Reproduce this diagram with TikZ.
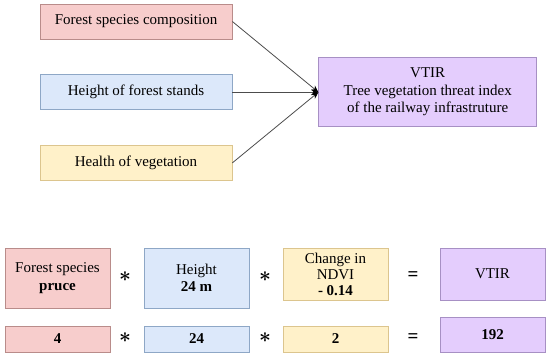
\documentclass[tikz,border=0pt]{standalone}
\usepackage{fontspec}
\setmainfont{Liberation Serif}
\usepackage{xcolor}
\usepackage{tikz}
\usetikzlibrary{arrows.meta,positioning}

\definecolor{speciesfill}{HTML}{F7CDCC}
\definecolor{speciesline}{HTML}{B98C8A}
\definecolor{heightfill}{HTML}{DCE8FA}
\definecolor{heightline}{HTML}{8EA7C6}
\definecolor{healthfill}{HTML}{FFF1C9}
\definecolor{healthline}{HTML}{DCC58E}
\definecolor{vtirfill}{HTML}{E4CDFD}
\definecolor{vtirline}{HTML}{A790C4}

\begin{document}
\begin{tikzpicture}[
    x=1pt, y=1pt,
    node distance=35pt and 86pt,
    box/.style={draw, align=center, inner sep=1pt, line width=0.7pt, font=\fontsize{15}{17.5}\selectfont},
    factor/.style={box, minimum width=192pt, minimum height=35pt},
    pinkbox/.style={fill=speciesfill, draw=speciesline},
    bluebox/.style={fill=heightfill, draw=heightline},
    yellowbox/.style={fill=healthfill, draw=healthline},
    lilacbox/.style={fill=vtirfill, draw=vtirline},
    op/.style={inner sep=0pt, font=\fontsize{21}{21}\selectfont\boldmath},
    eq/.style={inner sep=0pt, font=\fontsize{19}{19}\selectfont\bfseries},
    flow/.style={-{Stealth[length=7pt, width=6pt, color=black]}, line width=0.8pt, draw=black!70}
]
\useasboundingbox (0,0) rectangle (550,358);

% inputs of the index
\node[factor, pinkbox] (species) at (136,336.5) {Forest species composition};
\node[factor, bluebox, below=of species] (stands) {Height of forest stands};
\node[factor, yellowbox, below=of stands] (health) {Health of vegetation};
\node[box, lilacbox, minimum width=218pt, minimum height=69pt, right=of stands] (vtir)
    {VTIR\\Tree vegetation threat index\\of the railway infrastruture};

\draw[flow] (species.east) -- (vtir.west);
\draw[flow] (stands.east) -- (vtir.west);
\draw[flow] (health.east) -- (vtir.west);

% worked example
\node[box, pinkbox, minimum width=105pt, minimum height=60pt] (spruce) at (57.5,80) {Forest species\\\textbf{pruce}};
\node[box, bluebox, minimum width=105pt, minimum height=60pt] (tall) at (196.5,80) {Height\\\textbf{24 m}};
\node[box, yellowbox, minimum width=105pt, minimum height=52pt, font=\fontsize{15}{16}\selectfont] (ndvi) at (335.5,84) {Change in\\NDVI\\\textbf{- 0.14}};
\node[box, lilacbox, minimum width=105pt, minimum height=52pt] (result) at (492.5,84) {VTIR};

\node[op] (times1) at (125,81) {$\ast$};
\node[op] (times2) at (265,81) {$\ast$};
\node[eq] (equals1) at (413,82) {=};

\node[box, pinkbox, minimum width=105pt, minimum height=26pt] (spruceval) at (57.5,19) {\textbf{4}};
\node[box, bluebox, minimum width=105pt, minimum height=26pt] (tallval) at (196.5,19) {\textbf{24}};
\node[box, yellowbox, minimum width=105pt, minimum height=26pt] (ndvival) at (335.5,19) {\textbf{2}};
\node[box, lilacbox, minimum width=105pt, minimum height=35pt] (resultval) at (492.5,23.5) {\textbf{192}};

\node[op] (times3) at (125,20) {$\ast$};
\node[op] (times4) at (265,20) {$\ast$};
\node[eq] (equals2) at (413,20) {=};
\end{tikzpicture}
\end{document}
